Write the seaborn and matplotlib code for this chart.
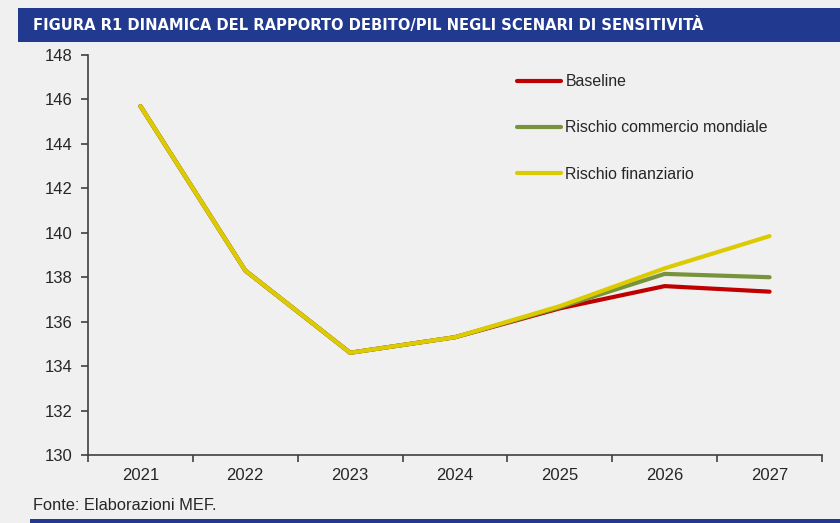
import matplotlib
matplotlib.use("Agg")
import matplotlib.pyplot as plt
import numpy as np
import pandas as pd
import seaborn as sns
from matplotlib.patches import Rectangle

# Data
years = ["2021", "2022", "2023", "2024", "2025", "2026", "2027"]
baseline = [145.7, 138.3, 134.6, 135.3, 136.6, 137.6, 137.35]
commercio = [145.7, 138.3, 134.6, 135.3, 136.65, 138.15, 138.0]
finanziario = [145.7, 138.3, 134.6, 135.3, 136.7, 138.4, 139.85]
series_names = ["Baseline", "Rischio commercio mondiale", "Rischio finanziario"]
colors = ["#C00000", "#77933C", "#DCCB00"]

df = pd.DataFrame(
    {
        "anno": years * 3,
        "valore": baseline + commercio + finanziario,
        "scenario": np.repeat(series_names, len(years)),
    }
)

sns.set_style("white")
plt.rcParams["font.family"] = ["Liberation Sans", "DejaVu Sans"]

bg = "#F0F0F0"
fig = plt.figure(figsize=(8.4, 5.23), dpi=100, facecolor=bg)
ax = fig.add_axes([88 / 840, 1 - 455 / 523, (822 - 88) / 840, 400 / 523])
ax.set_facecolor(bg)

sns.lineplot(
    data=df,
    x="anno",
    y="valore",
    hue="scenario",
    hue_order=series_names,
    palette=colors,
    linewidth=3,
    solid_capstyle="round",
    ax=ax,
)

# axes
ax.set_xlim(-0.5, len(years) - 0.5)
ax.set_ylim(130, 148)
ax.set_yticks(np.arange(130, 149, 2))
ax.set_xticks(np.arange(len(years)))
ax.set_xticklabels(years)
ax.set_xticks(np.arange(-0.5, len(years)), minor=True)
ax.tick_params(bottom=True, left=True, which="both")
ax.tick_params(axis="x", which="major", length=0, pad=9, labelsize=12)
ax.tick_params(axis="x", which="minor", length=5, width=1.2, color="#404040", direction="out")
ax.tick_params(axis="y", length=5, width=1.2, color="#404040", direction="out", pad=6, labelsize=12)
ax.set_xlabel("")
ax.set_ylabel("")
for side in ["top", "right"]:
    ax.spines[side].set_visible(False)
for side in ["left", "bottom"]:
    ax.spines[side].set_color("#404040")
    ax.spines[side].set_linewidth(1.2)

# legend
ax.legend(
    loc="upper left",
    bbox_to_anchor=(0.565, 0.988),
    frameon=False,
    fontsize=11.4,
    handlelength=2.8,
    handletextpad=0.25,
    labelspacing=1.98,
)

# title bar
fig.patches.append(
    Rectangle((18 / 840, 1 - 42 / 523), 1, 34 / 523, transform=fig.transFigure,
              facecolor="#213A8F", edgecolor="none", zorder=0)
)
fig.text(
    33 / 840, 1 - 25 / 523,
    "FIGURA R1 DINAMICA DEL RAPPORTO DEBITO/PIL NEGLI SCENARI DI SENSITIVITÀ",
    color="white", fontsize=11.8, fontweight="bold", fontstretch="condensed",
    family=["Liberation Sans Narrow", "DejaVu Sans"], va="center", ha="left",
)

# footer
fig.text(33 / 840, 1 - 506 / 523, "Fonte: Elaborazioni MEF.", fontsize=11.8, va="center", ha="left")
fig.patches.append(
    Rectangle((30 / 840, 0), 1, 4 / 523, transform=fig.transFigure,
              facecolor="#213A8F", edgecolor="none", zorder=0)
)

plt.savefig("out.png", dpi=100, facecolor=bg)
plt.close()
